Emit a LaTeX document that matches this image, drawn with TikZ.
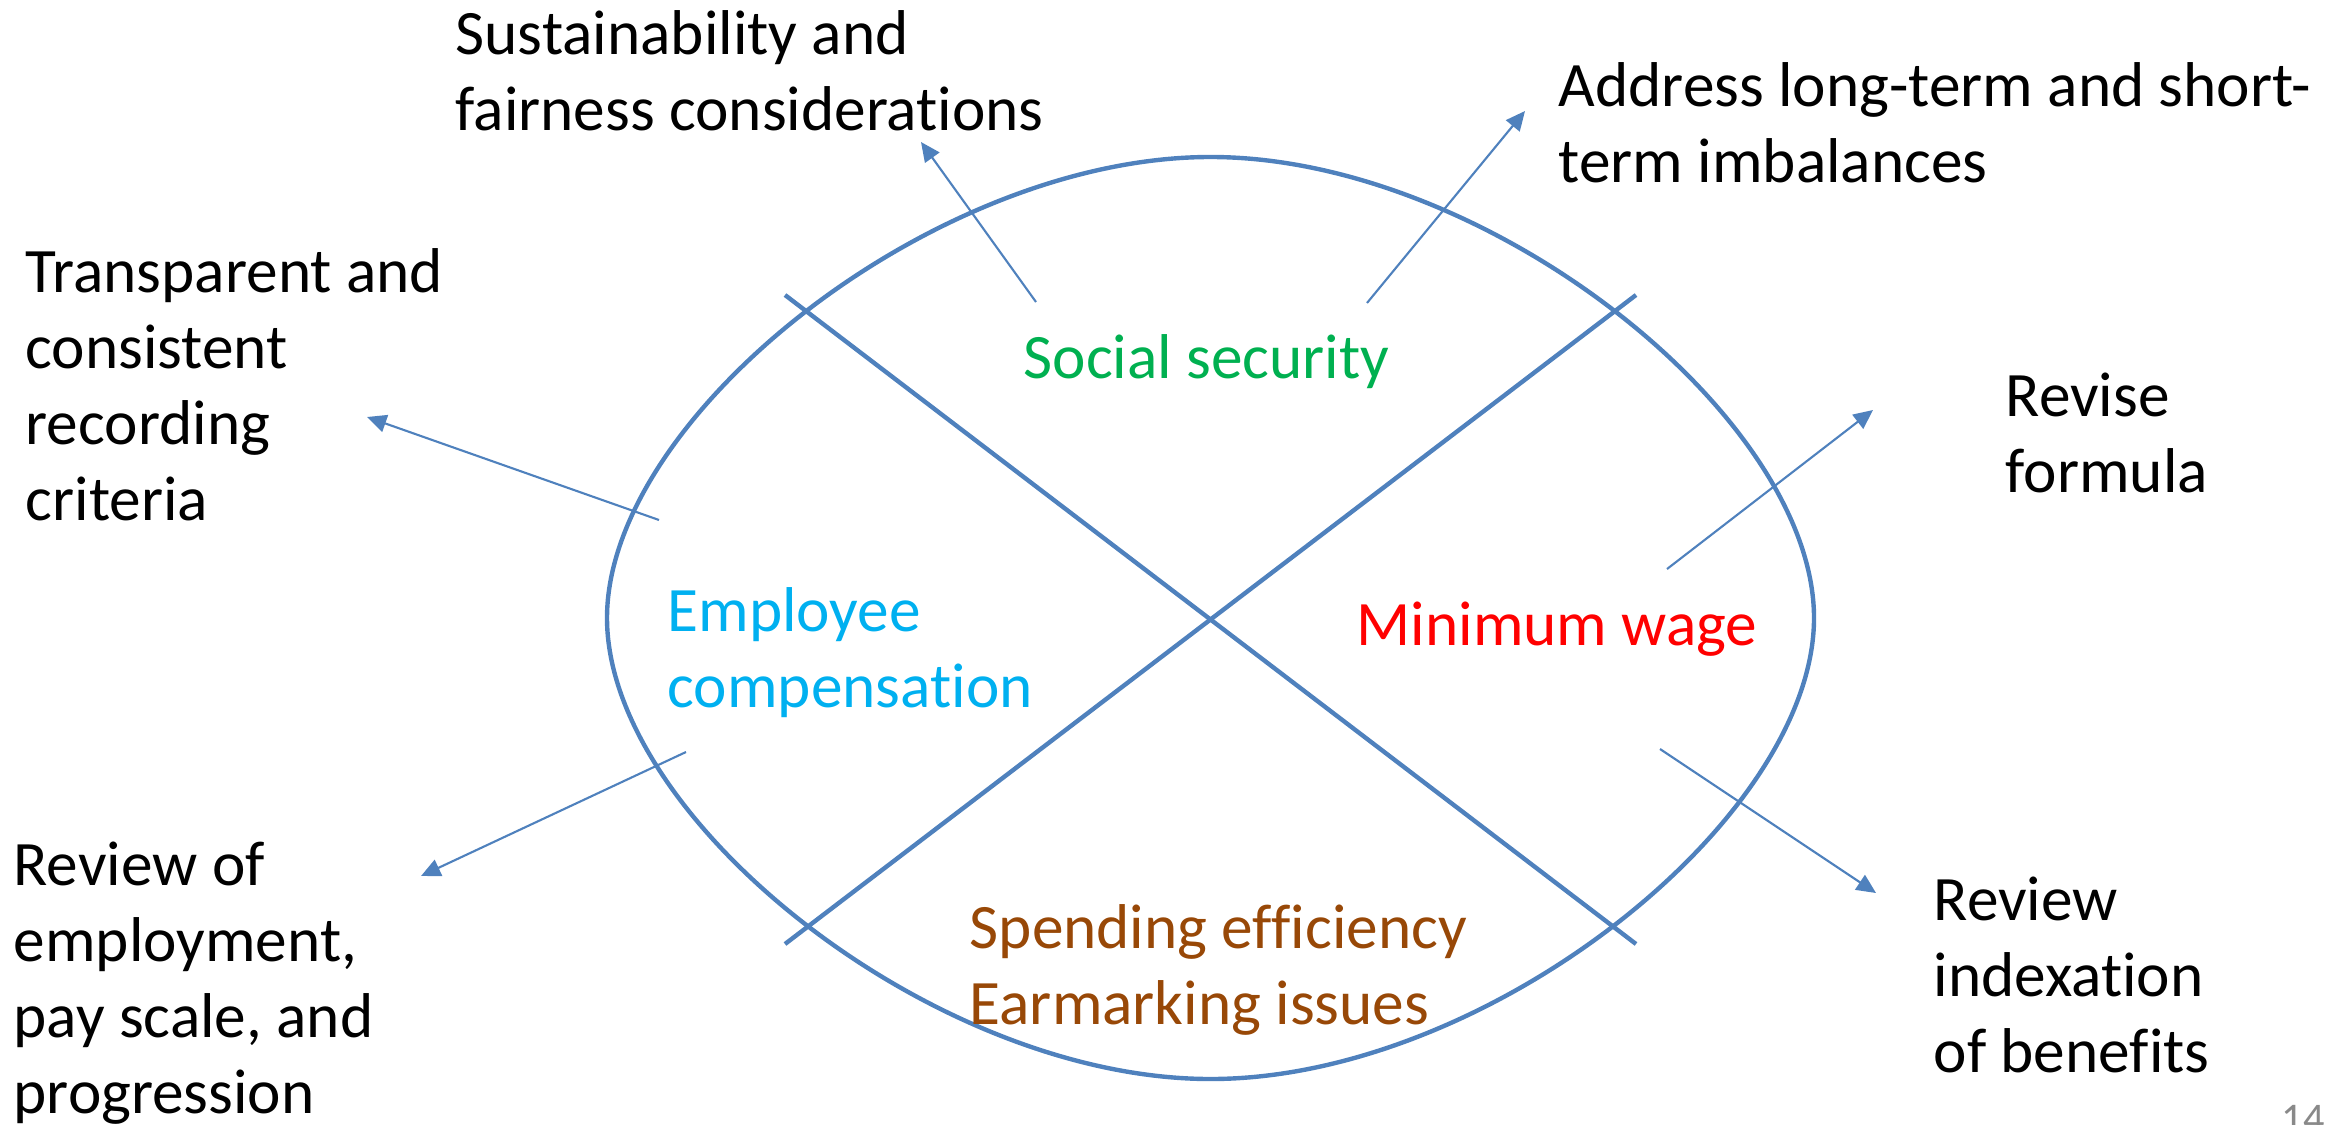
\documentclass[tikz,border=0pt]{standalone}
\usepackage{fontspec}
\setmainfont{Carlito}[Ligatures=NoCommon]
\usetikzlibrary{arrows.meta}
\definecolor{frameblue}{RGB}{79,129,189}
\definecolor{secgreen}{RGB}{0,176,80}
\definecolor{empcyan}{RGB}{0,176,240}
\definecolor{wagered}{RGB}{255,0,0}
\definecolor{spendbrown}{RGB}{152,72,7}
\definecolor{pagegray}{RGB}{137,137,137}
\begin{document}
\begin{tikzpicture}[x=0.01cm,y=-0.01cm,
  txt/.style={anchor=base west,inner sep=0pt,align=left,
    font=\fontsize{18}{21.6}\selectfont},
  outline/.style={draw=frameblue,line width=1.25pt,line join=round},
  divider/.style={draw=frameblue,line width=1.25pt},
  pointer/.style={draw=frameblue,line width=0.6pt,
    -{Triangle[length=5.5pt,width=5pt]}}]
\useasboundingbox (0,0) rectangle (2349,1124);

% rounded outline made of four smooth quarter curves
\coordinate (bl) at (607,618);
\coordinate (bt) at (1210.5,157);
\coordinate (br) at (1814,618);
\coordinate (bb) at (1210.5,1079);
\draw[outline] (bl) .. controls (607,417) and (933.5,157) .. (bt)
  .. controls (1487.5,157) and (1814,417) .. (br)
  .. controls (1814,819) and (1487.5,1079) .. (bb)
  .. controls (933.5,1079) and (607,819) .. (bl) -- cycle;

% the two crossing dividers
\coordinate (d1a) at (785,295);
\coordinate (d1b) at (1636,944);
\coordinate (d2a) at (785,944);
\coordinate (d2b) at (1636,295);
\draw[divider] (d1a) -- (d1b);
\draw[divider] (d2a) -- (d2b);

% quadrant titles (anchored at the baseline of their last line)
\node[txt,text=secgreen] (soc) at (1023,378) {Social security};
\node[txt,text=empcyan] (emp) at (667,707) {Employee\\compensation};
\node[txt,text=wagered] (min) at (1356,645) {Minimum wage};
\node[txt,text=spendbrown] (spd) at (969,1024) {Spending efficiency\\Earmarking issues};

% surrounding notes
\node[txt] (sus) at (455,130) {Sustainability and\\fairness considerations};
\node[txt] (adr) at (1558,182) {Address long-term and short-\\term imbalances};
\node[txt] (trn) at (25,520) {Transparent and\\consistent\\recording\\criteria};
\node[txt] (rev) at (2005,492) {Revise\\formula};
\node[txt] (rvo) at (13,1113) {Review of\\employment,\\pay scale, and\\progression};
\node[txt] (rvi) at (1933,1072) {Review\\indexation\\of benefits};

% arrow end points
\coordinate (s1) at (1036,302); \coordinate (t1) at (921,142);
\coordinate (s2) at (1367,303); \coordinate (t2) at (1525,111);
\coordinate (s3) at (659,520);  \coordinate (t3) at (367,417);
\coordinate (s4) at (686,752);  \coordinate (t4) at (421,876);
\coordinate (s5) at (1667,569); \coordinate (t5) at (1873,410);
\coordinate (s6) at (1660,749); \coordinate (t6) at (1876,893);
\draw[pointer] (s1) -- (t1);
\draw[pointer] (s2) -- (t2);
\draw[pointer] (s3) -- (t3);
\draw[pointer] (s4) -- (t4);
\draw[pointer] (s5) -- (t5);
\draw[pointer] (s6) -- (t6);

% page number
\node[anchor=base west,inner sep=0pt,text=pagegray,
  font=\fontsize{12}{14}\selectfont] (pg) at (2281,1132) {14};
\end{tikzpicture}
\end{document}
